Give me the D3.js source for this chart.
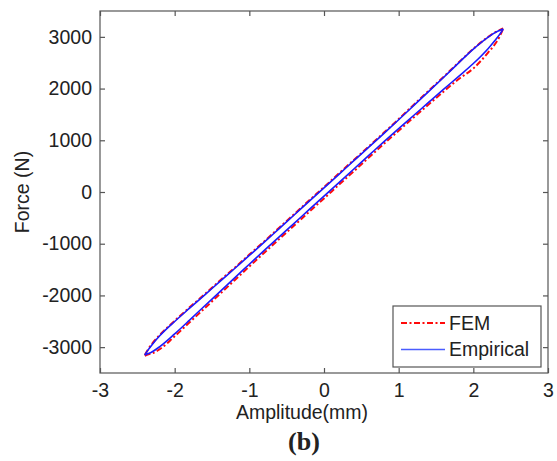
<!DOCTYPE html>
<html>
<head>
<meta charset="utf-8">
<script src="https://cdn.jsdelivr.net/npm/d3@7"></script>
<style>
  body { margin: 0; background: #fff; }
  text { font-family: Arial, "Liberation Sans", sans-serif; fill: #222; }
</style>
</head>
<body>
<svg></svg>
<script>
// amplitude samples (mm), shared by both loops
let amplitude = [-2.4, -2.35, -2.3, -2.2, -2.0, -1.8, -1.6, -1.4, -1.2, -1.0, -0.8, -0.6, -0.4, -0.2, 0,
  0.2, 0.4, 0.6, 0.8, 1.0, 1.2, 1.4, 1.6, 1.8, 2.0, 2.2, 2.3, 2.35, 2.4]

// force (N), upper and lower branch of each loop
let empUpper = [-3150, -3043, -2948, -2781, -2504, -2247, -1994, -1737, -1484, -1227, -970, -707, -445, -182, 80,
  342, 605, 867, 1130, 1397, 1669, 1942, 2214, 2492, 2764, 2996, 3088, 3123, 3150]
let empLower = [-3150, -3123, -3088, -2991, -2744, -2477, -2204, -1937, -1664, -1397, -1130, -867, -605, -342, -80,
  182, 445, 707, 970, 1227, 1479, 1732, 1984, 2232, 2484, 2776, 2948, 3043, 3150]
let femUpper = [-3150, -3030, -2930, -2765, -2490, -2230, -1980, -1720, -1470, -1210, -955, -690, -430, -165, 95,
  360, 620, 880, 1145, 1410, 1685, 1955, 2225, 2500, 2770, 3000, 3095, 3130, 3165]
let femLower = [-3170, -3140, -3120, -3040, -2790, -2520, -2250, -1980, -1710, -1440, -1175, -910, -650, -385, -125,
  140, 400, 665, 930, 1185, 1440, 1690, 1940, 2180, 2390, 2700, 2880, 3000, 3165]

let xTicks = [-3, -2, -1, 0, 1, 2, 3]
let yTicks = [-3000, -2000, -1000, 0, 1000, 2000, 3000]
let seriesNames = ['FEM', 'Empirical']

let svg = d3.select('svg').attr('width', 557).attr('height', 461)

let mLeft = 100, mRight = 548, mTop = 11, mBottom = 373

let x = d3.scaleLinear().domain([-3, 3]).range([mLeft, mRight])
let y = d3.scaleLinear().domain([-3500, 3500]).range([mBottom, mTop])

// curves
let line = d3.line()
  .x(function(d){return x(d[0])})
  .y(function(d){return y(d[1])})
  .curve(d3.curveMonotoneX)

function branch(vals) {
  return amplitude.map(function(a, i){return [a, vals[i]]})
}

let plot = svg.append('g')

let empStyle = function(p) {
  p.attr('fill', 'none').attr('stroke', '#1a1aff').attr('stroke-width', 1.6)
}
let femStyle = function(p) {
  p.attr('fill', 'none').attr('stroke', '#ff0a0a').attr('stroke-width', 2)
    .attr('stroke-dasharray', '6,2.5,2,2.5')
}

plot.append('path').attr('d', line(branch(femUpper))).call(femStyle)
plot.append('path').attr('d', line(branch(femLower))).call(femStyle)
plot.append('path').attr('d', line(branch(empUpper))).call(empStyle)
plot.append('path').attr('d', line(branch(empLower))).call(empStyle)

// box with inward ticks, matlab style
svg.append('rect')
  .attr('x', mLeft).attr('y', mTop)
  .attr('width', mRight - mLeft).attr('height', mBottom - mTop)
  .attr('fill', 'none').attr('stroke', '#555').attr('stroke-width', 1.2)

let plain = function(d){return String(d)}

svg.append('g').attr('transform', 'translate(0,' + mBottom + ')')
  .call(d3.axisBottom(x).tickValues(xTicks).tickSizeInner(-5).tickSizeOuter(0).tickPadding(10).tickFormat(plain))
svg.append('g').attr('transform', 'translate(0,' + mTop + ')')
  .call(d3.axisTop(x).tickValues(xTicks).tickSizeInner(-5).tickSizeOuter(0).tickFormat(''))
svg.append('g').attr('transform', 'translate(' + mLeft + ',0)')
  .call(d3.axisLeft(y).tickValues(yTicks).tickSizeInner(-5).tickSizeOuter(0).tickPadding(8).tickFormat(plain))
svg.append('g').attr('transform', 'translate(' + mRight + ',0)')
  .call(d3.axisRight(y).tickValues(yTicks).tickSizeInner(-5).tickSizeOuter(0).tickFormat(''))

svg.selectAll('.domain').remove()
svg.selectAll('.tick line').attr('stroke', '#555').attr('stroke-width', 1.2)
svg.selectAll('.tick text').attr('font-size', 19.5).attr('fill', '#222')
  .attr('font-family', 'Arial, "Liberation Sans", sans-serif')

// axis titles
svg.append('text')
  .attr('x', 302).attr('y', 419)
  .attr('text-anchor', 'middle').attr('font-size', 19.5)
  .text('Amplitude(mm)')

svg.append('text')
  .attr('transform', 'translate(29,192) rotate(-90)')
  .attr('text-anchor', 'middle').attr('font-size', 19.5)
  .text('Force (N)')

svg.append('text')
  .attr('x', 304).attr('y', 450)
  .attr('text-anchor', 'middle').attr('font-size', 26).attr('font-weight', 'bold')
  .style('font-family', '"Liberation Serif", "Times New Roman", serif')
  .text('(b)')

// legend
let legend = svg.append('g')
legend.append('rect')
  .attr('x', 393).attr('y', 306).attr('width', 148).attr('height', 61)
  .attr('fill', '#fff').attr('stroke', '#555').attr('stroke-width', 1.2)

legend.selectAll('line.key')
  .data(seriesNames)
  .enter().append('line')
  .attr('x1', 401).attr('x2', 445)
  .attr('y1', function(d,i){return 323 + i*26.5})
  .attr('y2', function(d,i){return 323 + i*26.5})
  .each(function(d,i){
    if (i == 0) d3.select(this).call(femStyle)
    else d3.select(this).attr('stroke', '#4a5cff').attr('stroke-width', 1.3)
  })

legend.selectAll('text.key')
  .data(seriesNames)
  .enter().append('text')
  .attr('x', 449)
  .attr('y', function(d,i){return 323 + i*26.5})
  .attr('dy', '0.35em')
  .attr('font-size', 19.5)
  .text(function(d){return d})
</script>
</body>
</html>
